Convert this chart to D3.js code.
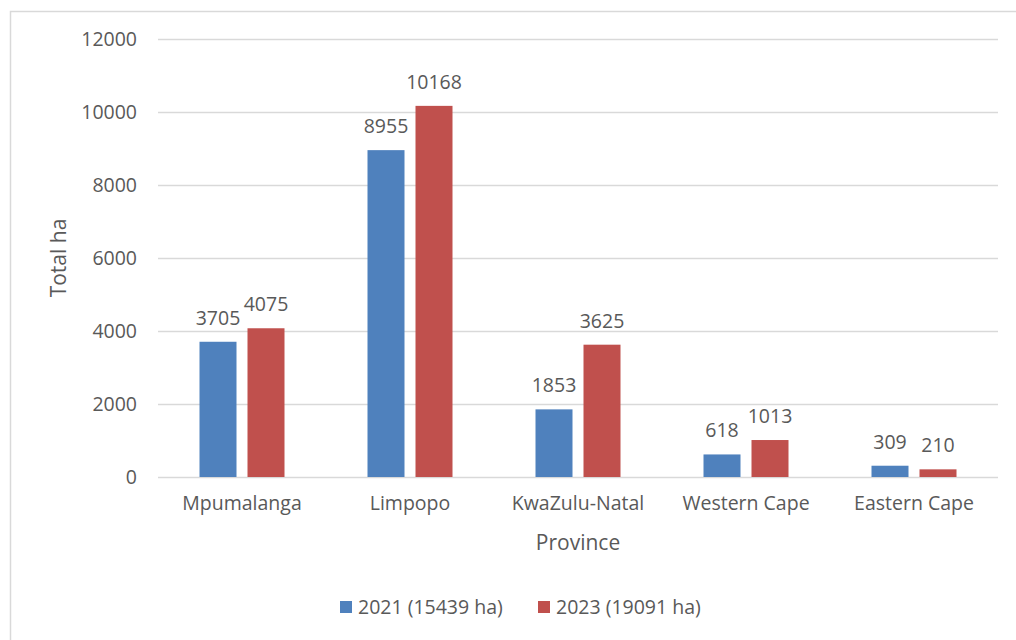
<!DOCTYPE html>
<html>
<head>
<meta charset="utf-8">
<script src="https://cdn.jsdelivr.net/npm/d3@7"></script>
<style>
  html, body { margin: 0; padding: 0; background: #fff; }
  svg text { font-family: "Open Sans", "Noto Sans", sans-serif; fill: #595959; }
</style>
</head>
<body>
<div id="chart"></div>
<script>
// data
const provinces = ["Mpumalanga", "Limpopo", "KwaZulu-Natal", "Western Cape", "Eastern Cape"];
const seriesNames = ["2021 (15439 ha)", "2023 (19091 ha)"];
const values2021 = [3705, 8955, 1853, 618, 309];
const values2023 = [4075, 10168, 3625, 1013, 210];
const yTicks = [0, 2000, 4000, 6000, 8000, 10000, 12000];
const colors = ["#4f81bd", "#c0504d"];

const width = 1016, height = 640;
const plot = { left: 158, right: 998, top: 39, bottom: 477 };
const fs = 19.5;

const svg = d3.select("#chart").append("svg")
    .attr("width", width)
    .attr("height", height);

// chart frame (runs off the right / bottom edge like the reference)
svg.append("rect")
    .attr("x", 10.5).attr("y", 11.5)
    .attr("width", 1100).attr("height", 700)
    .attr("fill", "none")
    .attr("stroke", "#d9d9d9")
    .attr("stroke-width", 1.5);

const x = d3.scaleBand().domain(provinces).range([plot.left, plot.right]);
const y = d3.scaleLinear().domain([0, 12000]).range([plot.bottom, plot.top]);

const barW = 37, innerGap = 11;
const groupW = barW * 2 + innerGap;
const xSub = d3.scaleBand().domain([0, 1]).range([0, groupW])
    .paddingInner(innerGap / (barW + innerGap));

// gridlines + y labels
const yAxis = d3.axisLeft(y).tickValues(yTicks).tickFormat(d3.format("d"))
    .tickSize(-(plot.right - plot.left)).tickPadding(21);
svg.append("g")
    .attr("transform", `translate(${plot.left},0)`)
    .call(yAxis)
    .call(g => g.select(".domain").remove())
    .call(g => g.selectAll(".tick line").attr("stroke", "#d9d9d9").attr("stroke-width", 1.3))
    .call(g => g.selectAll(".tick text").attr("font-size", fs).attr("dy", "0.35em"));

// x labels
const xAxis = d3.axisBottom(x).tickSize(0).tickPadding(19);
svg.append("g")
    .attr("transform", `translate(0,${plot.bottom})`)
    .call(xAxis)
    .call(g => g.select(".domain").remove())
    .call(g => g.selectAll(".tick text").attr("font-size", fs));

const rows = provinces.map((p, i) => ({ province: p, vals: [values2021[i], values2023[i]] }));

const groups = svg.append("g").selectAll("g")
    .data(rows)
    .join("g")
    .attr("transform", d => `translate(${x(d.province) + (x.bandwidth() - groupW) / 2},0)`);

groups.selectAll("rect")
    .data(d => d.vals.map((v, k) => ({ v, k })))
    .join("rect")
    .attr("x", d => xSub(d.k))
    .attr("width", xSub.bandwidth())
    .attr("y", d => y(d.v))
    .attr("height", d => y(0) - y(d.v))
    .attr("fill", d => colors[d.k]);

groups.selectAll("text.lbl")
    .data(d => d.vals.map((v, k) => ({ v, k })))
    .join("text")
    .attr("class", "lbl")
    .attr("x", d => xSub(d.k) + xSub.bandwidth() / 2)
    .attr("y", d => y(d.v) - 17)
    .attr("text-anchor", "middle")
    .attr("font-size", fs)
    .text(d => d.v);

// axis titles
svg.append("text")
    .attr("transform", `translate(66,${(plot.top + plot.bottom) / 2}) rotate(-90)`)
    .attr("text-anchor", "middle")
    .attr("font-size", 21)
    .text("Total ha");

svg.append("text")
    .attr("x", (plot.left + plot.right) / 2)
    .attr("y", 550)
    .attr("text-anchor", "middle")
    .attr("font-size", 21)
    .text("Province");

// legend
const legendX = [340, 538];
const legend = svg.append("g").selectAll("g")
    .data(seriesNames)
    .join("g")
    .attr("transform", (d, i) => `translate(${legendX[i]},601)`);
legend.append("rect")
    .attr("width", 12).attr("height", 12)
    .attr("fill", (d, i) => colors[i]);
legend.append("text")
    .attr("x", 18).attr("y", 6)
    .attr("dy", "0.35em")
    .attr("font-size", fs)
    .text(d => d);
</script>
</body>
</html>
